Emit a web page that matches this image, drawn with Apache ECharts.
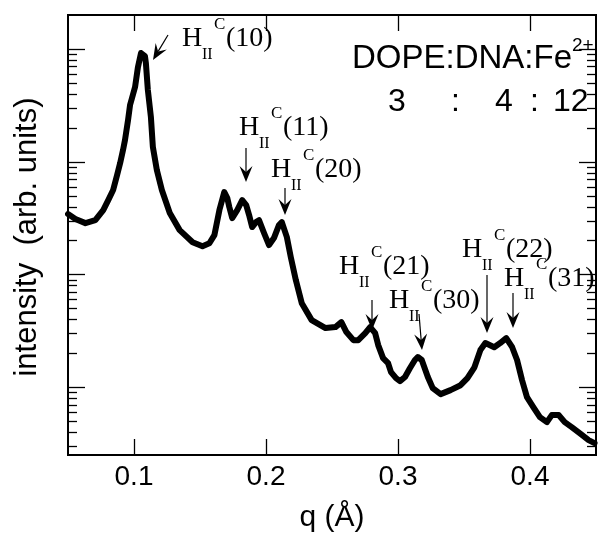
<!DOCTYPE html>
<html>
<head>
<meta charset="utf-8">
<script src="https://cdn.jsdelivr.net/npm/echarts@6/dist/echarts.min.js"></script>
<style>html,body{margin:0;padding:0;background:#fff;}#c{width:599px;height:535px;}</style>
</head>
<body>
<div id="c"></div>
<script>
// ---- data ----
const q = [0.050,0.0556,0.0632,0.0707,0.0767,0.0805,0.0842,0.0872,0.0895,0.0917,
0.0932,0.0955,0.0970,0.0985,0.1008,0.1030,0.1053,0.1068,0.1083,0.1090,
0.1105,0.1128,0.1143,0.1173,0.1211,0.1271,0.1346,0.1444,0.1519,0.1571,
0.1609,0.1647,0.1684,0.1707,0.1722,0.1744,0.1782,0.1820,0.1850,0.1872,
0.1895,0.1925,0.1947,0.1985,0.2023,0.2060,0.2098,0.2120,0.2158,0.2188,
0.2226,0.2271,0.2346,0.2451,0.2526,0.2571,0.2609,0.2662,0.2699,0.2752,
0.2789,0.2827,0.2850,0.2887,0.2925,0.2947,0.2985,0.3015,0.3053,0.3090,
0.3128,0.3150,0.3180,0.3226,0.3263,0.3323,0.3398,0.3474,0.3526,0.3579,
0.3624,0.3662,0.3729,0.3774,0.3820,0.3865,0.3902,0.3940,0.3977,0.4030,
0.4075,0.4128,0.4165,0.4218,0.4263,0.4316,0.4376,0.4444,0.4489];
const intensity = [34.3,31.0,28.5,30.3,37.2,45.6,56.0,76.1,97.2,127,
156,234,318,367,459,691,920,958,865,750,
432,249,135,84.2,56.0,35.0,24.7,19.3,17.8,18.9,
22.3,37.2,53.7,47.5,39.6,31.6,37.2,45.6,41.2,33.6,
26.3,29.1,30.3,23.3,18.2,21.0,27.4,29.1,21.4,14.2,
8.90,5.56,3.93,3.34,3.41,3.77,3.08,2.61,2.61,3.01,
3.41,3.01,2.36,1.81,1.63,1.36,1.20,1.13,1.23,1.47,
1.74,1.85,1.74,1.23,0.980,0.867,0.941,1.04,1.20,1.50,
2.13,2.46,2.26,2.46,2.72,2.26,1.74,1.15,0.815,0.651,
0.542,0.489,0.565,0.565,0.489,0.442,0.391,0.339,0.319];

const xRange = [0.05, 0.45];
const yRange = [0.25, 2000];
const xTicks = [0.1, 0.2, 0.3, 0.4];
const xTickLabels = ['0.1', '0.2', '0.3', '0.4'];
const yMajorTicks = [1, 10, 100, 1000];
const yDecades = [0.1, 1, 10, 100, 1000];
const yMinorMultipliers = [2, 3, 4, 5, 6, 7, 8, 9];
const peakLabels = ['(10)', '(11)', '(20)', '(21)', '(30)', '(22)', '(31)'];

// ---- build ----
const yMinorTicks = [];
yDecades.forEach(d => yMinorMultipliers.forEach(m => {
  const v = d * m;
  if (v > yRange[0] && v < yRange[1]) yMinorTicks.push(v);
}));
const seriesData = q.map((x, i) => [x, intensity[i]]);

const chart = echarts.init(document.getElementById('c'), null, {renderer: 'canvas'});

function tickRender(params, api) {
  if (params.dataIndex !== 0) return;
  const children = [];
  const ls = {stroke: '#000', lineWidth: 1.3};
  function yt(v, len) {
    const a = api.coord([xRange[0], v]);
    const b = api.coord([xRange[1], v]);
    const y = Math.round(a[1]) + 0.5;
    children.push({type: 'line', shape: {x1: a[0], y1: y, x2: a[0] + len, y2: y}, style: ls});
    children.push({type: 'line', shape: {x1: b[0] - len, y1: y, x2: b[0], y2: y}, style: ls});
  }
  yMajorTicks.forEach(v => yt(v, 17));
  yMinorTicks.forEach(v => yt(v, 9));
  xTicks.forEach(v => {
    const a = api.coord([v, yRange[0]]);
    const b = api.coord([v, yRange[1]]);
    const x = Math.round(a[0]) + 0.5;
    children.push({type: 'line', shape: {x1: x, y1: a[1], x2: x, y2: a[1] - 16}, style: ls});
    children.push({type: 'line', shape: {x1: x, y1: b[1], x2: x, y2: b[1] + 16}, style: ls});
  });
  return {type: 'group', children};
}

const serif = '"Liberation Serif", "Times New Roman", serif';
const sans = '"Liberation Sans", Arial, sans-serif';
function txt(x, y, text, size, fam, align) {
  return {type: 'text', x, y, silent: true,
    style: {text, fill: '#000', font: size + 'px ' + fam,
      align: align || 'left', verticalAlign: 'middle',
      textAlign: align || 'left', textVerticalAlign: 'middle'}};
}
function hLabel(x, y, paren) {
  return [txt(x - 1, y, 'H', 28, serif), txt(x + 19, y + 16, 'II', 16, serif),
          txt(x + 31, y - 14, 'C', 17, serif), txt(x + 43, y, paren, 28, serif)];
}
function arrow(x1, y1, x2, y2) {
  const dx = x2 - x1, dy = y2 - y1, L = Math.sqrt(dx * dx + dy * dy);
  const ux = dx / L, uy = dy / L, px = -uy, py = ux;
  const hl = 16, hw = 6.5, notch = 10;
  const bx = x2 - ux * hl, by = y2 - uy * hl;
  const nx = x2 - ux * notch, ny = y2 - uy * notch;
  return [
    {type: 'polyline', silent: true, shape: {points: [[x1, y1], [nx, ny]]}, style: {stroke: '#000', lineWidth: 1.2, fill: null}},
    {type: 'polygon', silent: true, shape: {points: [[x2, y2], [bx + px * hw, by + py * hw], [nx, ny], [bx - px * hw, by - py * hw]]}, style: {fill: '#000'}}
  ];
}
const hPos = [[183, 39], [240, 128], [272, 170], [340, 267], [390, 301], [463, 250], [505, 279]];
const arrows = [[168, 35, 153, 60], [246, 148, 246, 182], [285, 188, 285, 215], [372, 300, 372, 330],
                [419, 314, 422, 350], [487, 275, 487, 333], [513, 293, 513, 328]];

let graphics = [];
peakLabels.forEach((p, i) => { graphics = graphics.concat(hLabel(hPos[i][0], hPos[i][1], p)); });
arrows.forEach(a => { graphics = graphics.concat(arrow(a[0], a[1], a[2], a[3])); });
graphics.push(txt(352, 59, 'DOPE:DNA:Fe', 33, sans));
graphics.push(txt(572, 46, '2+', 19, sans));
graphics.push(txt(388, 102, '3', 32, sans));
graphics.push(txt(451, 102, ':', 32, sans));
graphics.push(txt(495, 102, '4', 32, sans));
graphics.push(txt(530, 102, ':', 32, sans));
graphics.push(txt(553, 102, '12', 32, sans));
graphics.push(Object.assign(txt(27, 237, 'intensity  (arb. units)', 31, sans, 'center'), {rotation: Math.PI / 2}));
graphics.push(txt(332, 518, 'q (Å)', 30, sans, 'center'));

chart.setOption({
  animation: false,
  backgroundColor: '#fff',
  grid: {left: 68, right: 1, top: 15, bottom: 80, show: true, borderColor: '#000', borderWidth: 2, backgroundColor: 'transparent'},
  xAxis: {type: 'value', min: xRange[0], max: xRange[1],
    axisLine: {show: false}, axisTick: {show: false}, splitLine: {show: false},
    axisLabel: {color: '#000', fontSize: 28, fontFamily: sans, margin: 8,
      formatter: v => { const i = xTicks.findIndex(t => Math.abs(t - v) < 1e-9); return i >= 0 ? xTickLabels[i] : ''; }}},
  yAxis: {type: 'log', logBase: 10, min: yRange[0], max: yRange[1],
    axisLine: {show: false}, axisTick: {show: false}, splitLine: {show: false}, axisLabel: {show: false}},
  series: [
    {type: 'line', data: seriesData, showSymbol: false, symbol: 'none', smooth: false,
      lineStyle: {color: '#000', width: 6, join: 'round', cap: 'round'}, z: 3},
    {type: 'custom', data: [[0.1, 1]], renderItem: tickRender, silent: true, z: 4}
  ],
  graphic: {elements: graphics}
});
</script>
</body>
</html>
